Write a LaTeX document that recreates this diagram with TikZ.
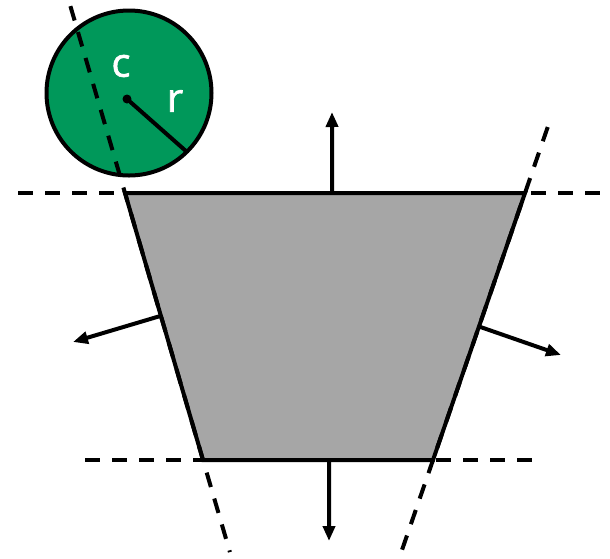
\documentclass[tikz,border=0pt]{standalone}
\usepackage{fontspec}
\newfontfamily\lblfont[FakeBold=1.5]{Open Sans}
\usepackage{tikz}
\usetikzlibrary{arrows.meta,calc}
\definecolor{diskgreen}{RGB}{0,152,90}
\definecolor{polygray}{RGB}{166,166,166}
\tikzset{
  disk/.style={draw,circle,line width=4pt,fill=diskgreen,minimum size=165pt,inner sep=0pt},
  poly/.style={draw,line width=4pt,line join=miter},
  hline/.style={line width=4pt,dash pattern=on 15pt off 12pt},
  nrm/.style={-{Triangle[length=15pt,width=12pt]},line width=4pt},
  lbl/.style={text=white,inner sep=0pt,font=\lblfont\fontsize{40}{42}\selectfont},
}
\begin{document}
\begin{tikzpicture}[x=1pt,y=-1pt]
 \useasboundingbox (0,0) rectangle (610,558);
 % disk
 \node[disk] (d) at (129,93) {};
 \coordinate (cc) at (127,99);
 \coordinate (rr) at (187,152);
 \draw[line width=4pt] (cc) -- (rr);
 \fill (cc) circle (4.5pt);
 \node[lbl] (c) at (121,66) {c};
 \node[lbl] (r) at (175,101) {r};
 % trapezoid
 \coordinate (tl) at (125,193);
 \coordinate (tr) at (525,193);
 \coordinate (br) at (433,460);
 \coordinate (bl) at (203,460);
 \fill[polygray] (tl) -- (tr) -- (br) -- (bl) -- cycle;
 % supporting lines
 \coordinate (h1a) at (18,193);  \coordinate (h1b) at (610,193);
 \coordinate (h2a) at (85,460);  \coordinate (h2b) at (540,460);
 \draw[hline] (h1a) -- (h1b);
 \draw[hline] (h2a) -- (h2b);
 \draw[hline] ($(tl)!-0.7!(bl)$) -- ($(tl)!1.345!(bl)$);
 \draw[hline] ($(tr)!-0.247!(br)$) -- ($(tr)!1.35!(br)$);
 \draw[poly] (tl) -- (tr) -- (br) -- (bl) -- cycle;
 % normals
 \coordinate (nt) at (332,112);
 \coordinate (nb) at (329,541);
 \coordinate (nl) at (73,342);
 \coordinate (nr) at (561,355);
 \draw[nrm] ($(tl)!0.518!(tr)$) -- (nt);
 \draw[nrm] ($(bl)!0.548!(br)$) -- (nb);
 \draw[nrm] ($(tl)!0.46!(bl)$) -- (nl);
 \draw[nrm] ($(tr)!0.50!(br)$) -- (nr);
\end{tikzpicture}
\end{document}
